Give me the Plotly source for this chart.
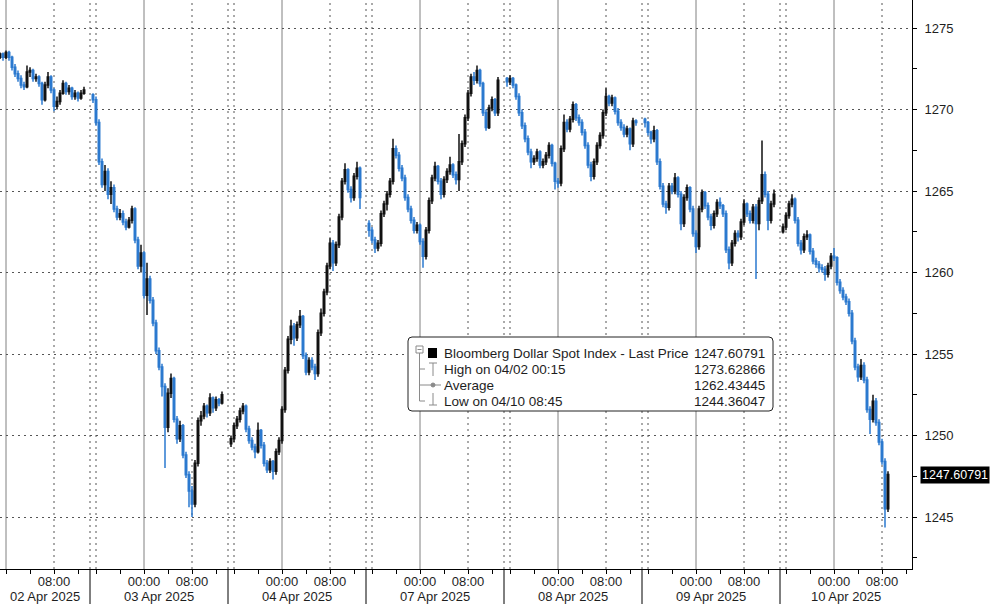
import numpy as np
import plotly.graph_objects as go

# ---------------- data ----------------
series_name = "Bloomberg Dollar Spot Index - Last Price"
last_price = 1247.60791
high_value, high_label = 1273.62866, "High on 04/02 00:15"
avg_value, avg_label = 1262.43445, "Average"
low_value, low_label = 1244.36047, "Low on 04/10 08:45"

# Sessions on a trading-hour clock (each session = 23 h, starting 15:00 the day before)
session_labels = ["02 Apr 2025", "03 Apr 2025", "04 Apr 2025", "07 Apr 2025",
                  "08 Apr 2025", "09 Apr 2025", "10 Apr 2025"]
session_first_bar = [8.0, 23.5, 46.5, 69.5, 92.5, 115.5, 138.5]
session_last_bar = [22.0, 45.0, 68.0, 91.0, 114.0, 137.0, 156.0]
bar_step = 0.5  # 30-minute bars

open_ = [
    1273.2, 1273.4, 1273.2, 1273.5, 1273.2, 1272.6, 1272.2, 1271.9, 1271.5, 1271.4, 1272.3, 1272.4, 1271.9, 1272.0, 1271.6, 1270.6, 1271.5, 1272.0, 1271.2, 1270.2, 1270.5, 1271.0, 1271.6, 1271.1, 1271.3, 1270.8, 1271.0, 1270.7, 1271.0,
    1270.9, 1270.6, 1269.2, 1266.8, 1265.4, 1266.2, 1264.8, 1265.2, 1263.9, 1263.4, 1263.6, 1263.1, 1262.8, 1263.2, 1263.9, 1262.0, 1260.4, 1261.2, 1258.6, 1259.6, 1258.3, 1256.9, 1255.2, 1254.2, 1253.0, 1250.5, 1252.6, 1253.5, 1251.0, 1249.8, 1250.6, 1248.8, 1247.6, 1246.6, 1245.8, 1248.3, 1250.9, 1251.2, 1251.8, 1251.4, 1252.3, 1251.7, 1252.2, 1252.0,
    1249.5, 1249.8, 1250.6, 1251.0, 1251.5, 1251.8, 1250.4, 1249.7, 1249.3, 1249.0, 1250.3, 1249.4, 1248.3, 1247.9, 1248.4, 1247.8, 1249.0, 1249.7, 1251.6, 1254.0, 1255.9, 1256.7, 1256.0, 1256.8, 1257.3, 1254.9, 1253.9, 1254.6, 1254.2, 1253.8, 1256.3, 1257.5, 1258.8, 1260.4, 1261.8, 1260.6, 1261.7, 1263.4, 1265.6, 1266.3, 1265.1, 1264.6, 1265.9, 1266.4,
    1263.0, 1262.6, 1262.0, 1261.5, 1261.8, 1263.6, 1264.2, 1264.8, 1265.6, 1267.6, 1267.2, 1266.4, 1265.8, 1264.6, 1263.9, 1263.2, 1262.6, 1262.9, 1261.9, 1261.0, 1262.6, 1264.4, 1265.8, 1266.5, 1265.6, 1264.8, 1265.7, 1266.2, 1266.6, 1266.0, 1265.7, 1266.8, 1267.9, 1269.5, 1271.0, 1272.0, 1271.8, 1272.4, 1271.6, 1269.8, 1268.9, 1270.1, 1270.6, 1269.8,
    1271.9, 1271.7, 1271.9, 1271.5, 1270.8, 1269.8, 1269.0, 1268.2, 1267.4, 1266.8, 1267.0, 1267.4, 1266.6, 1266.8, 1267.2, 1267.8, 1266.7, 1265.6, 1265.5, 1267.6, 1269.2, 1268.8, 1269.4, 1270.3, 1269.5, 1269.2, 1268.6, 1267.8, 1266.6, 1265.9, 1266.8, 1267.8, 1268.4, 1269.8, 1270.8, 1270.4, 1270.7, 1269.9, 1269.2, 1268.9, 1268.5, 1268.8, 1267.9, 1269.3,
    1269.4, 1269.2, 1268.6, 1268.2, 1268.7, 1266.8, 1265.3, 1264.2, 1264.0, 1265.3, 1265.0, 1265.8, 1264.8, 1263.0, 1264.6, 1265.2, 1263.9, 1262.4, 1261.6, 1263.9, 1264.9, 1264.1, 1263.4, 1262.9, 1263.6, 1264.3, 1264.1, 1263.6, 1261.4, 1260.6, 1261.8, 1262.4, 1262.2, 1263.1, 1264.2, 1263.6, 1263.2, 1264.0, 1263.0, 1264.4, 1266.0, 1264.8, 1263.2, 1264.2,
    1262.5, 1262.8, 1263.5, 1264.2, 1264.5, 1263.2, 1261.8, 1261.4, 1262.2, 1262.3, 1261.3, 1260.7, 1260.5, 1260.3, 1260.2, 1259.9, 1260.4, 1261.0, 1260.9, 1259.4, 1258.9, 1258.5, 1258.2, 1257.5, 1255.8, 1254.2, 1253.6, 1254.3, 1253.4, 1251.6, 1251.0, 1252.1, 1250.8, 1249.6, 1248.4, 1245.5,
]
high = [
    1273.5, 1273.5, 1273.62866, 1273.6, 1273.3, 1272.8, 1272.4, 1272.1, 1271.7, 1272.7, 1272.6, 1272.5, 1272.2, 1272.1, 1271.7, 1271.7, 1272.3, 1272.1, 1271.3, 1270.8, 1271.2, 1271.8, 1271.7, 1271.5, 1271.4, 1271.2, 1271.1, 1271.2, 1271.4,
    1271.0, 1270.8, 1269.4, 1267.0, 1266.6, 1266.4, 1265.6, 1265.4, 1264.1, 1263.9, 1263.8, 1263.3, 1263.4, 1264.1, 1264.0, 1262.2, 1261.7, 1261.3, 1260.6, 1259.8, 1258.5, 1257.1, 1255.4, 1254.4, 1253.2, 1252.9, 1253.8, 1253.6, 1251.2, 1250.9, 1250.7, 1249.0, 1247.8, 1246.9, 1248.5, 1251.1, 1251.5, 1252.0, 1251.9, 1252.6, 1252.4, 1252.4, 1252.3, 1252.7,
    1250.0, 1250.8, 1251.2, 1251.7, 1252.0, 1251.9, 1250.6, 1249.9, 1249.5, 1250.8, 1250.4, 1249.6, 1248.5, 1248.6, 1248.5, 1249.2, 1249.9, 1251.8, 1254.2, 1256.1, 1257.1, 1256.9, 1257.0, 1257.7, 1257.4, 1255.1, 1254.8, 1254.8, 1254.4, 1256.5, 1257.8, 1259.0, 1260.6, 1262.1, 1262.0, 1261.9, 1263.6, 1265.8, 1266.7, 1266.4, 1265.3, 1266.1, 1266.8, 1266.5,
    1263.2, 1262.8, 1262.2, 1262.0, 1263.8, 1264.4, 1265.0, 1265.8, 1268.2, 1267.8, 1267.4, 1266.6, 1266.0, 1264.8, 1264.1, 1263.4, 1263.1, 1263.0, 1262.1, 1262.8, 1264.6, 1266.0, 1266.8, 1266.6, 1265.8, 1265.9, 1266.4, 1267.1, 1266.7, 1266.2, 1268.5, 1268.1, 1269.7, 1271.2, 1272.2, 1272.3, 1272.7, 1272.5, 1271.7, 1270.0, 1270.3, 1270.8, 1270.7, 1272.0,
    1272.0, 1272.1, 1272.0, 1271.6, 1271.0, 1270.0, 1269.2, 1268.4, 1267.6, 1267.2, 1267.6, 1267.5, 1267.0, 1267.4, 1268.0, 1267.9, 1266.8, 1265.8, 1267.8, 1269.7, 1269.4, 1269.6, 1270.5, 1270.4, 1269.7, 1269.4, 1268.8, 1268.0, 1266.8, 1267.0, 1268.0, 1268.6, 1270.0, 1271.3, 1270.9, 1270.9, 1270.8, 1270.1, 1269.4, 1269.1, 1269.0, 1268.9, 1269.5, 1269.4,
    1269.5, 1269.3, 1268.7, 1269.0, 1268.8, 1267.0, 1265.5, 1264.4, 1265.5, 1265.5, 1266.1, 1265.9, 1265.0, 1264.8, 1265.4, 1265.3, 1264.1, 1262.6, 1264.1, 1265.1, 1265.0, 1264.3, 1263.6, 1263.8, 1264.5, 1264.6, 1264.2, 1263.8, 1261.6, 1262.0, 1262.6, 1262.6, 1263.3, 1264.5, 1264.3, 1263.8, 1264.2, 1264.2, 1264.6, 1268.1, 1266.2, 1265.0, 1264.4, 1265.1,
    1263.0, 1263.7, 1264.4, 1264.8, 1264.6, 1263.4, 1262.0, 1262.4, 1262.6, 1262.4, 1261.5, 1260.9, 1260.7, 1260.5, 1260.4, 1260.6, 1261.2, 1261.5, 1261.0, 1259.6, 1259.1, 1258.7, 1258.4, 1257.7, 1256.0, 1254.4, 1254.7, 1254.5, 1253.6, 1251.8, 1252.5, 1252.3, 1251.0, 1249.8, 1248.6, 1247.8,
]
low = [
    1273.1, 1273.0, 1273.1, 1273.0, 1272.4, 1272.0, 1271.7, 1271.3, 1271.2, 1271.3, 1272.0, 1271.7, 1271.7, 1271.4, 1270.3, 1270.5, 1271.3, 1271.0, 1269.9, 1270.0, 1270.3, 1270.9, 1270.9, 1270.9, 1270.6, 1270.6, 1270.5, 1270.6, 1270.9,
    1270.4, 1269.0, 1266.6, 1265.2, 1265.0, 1264.5, 1264.2, 1263.7, 1263.2, 1263.2, 1262.9, 1262.6, 1262.7, 1263.0, 1261.8, 1260.2, 1260.0, 1258.4, 1257.4, 1258.1, 1256.7, 1255.0, 1254.0, 1252.4, 1248.0, 1250.2, 1252.3, 1250.8, 1249.5, 1249.6, 1248.6, 1247.4, 1245.6, 1245.0, 1245.6, 1248.1, 1250.6, 1251.0, 1251.1, 1251.2, 1251.4, 1251.5, 1251.8, 1251.9,
    1249.3, 1249.6, 1250.4, 1250.8, 1251.3, 1250.2, 1249.5, 1249.1, 1248.6, 1248.9, 1249.2, 1248.1, 1247.7, 1247.7, 1247.3, 1247.6, 1248.8, 1249.5, 1251.4, 1253.8, 1255.6, 1255.5, 1255.8, 1256.6, 1254.7, 1253.7, 1253.7, 1254.0, 1253.4, 1253.6, 1256.1, 1257.3, 1258.6, 1260.2, 1260.1, 1260.4, 1261.5, 1263.2, 1265.4, 1264.9, 1264.3, 1264.4, 1265.7, 1263.9,
    1262.2, 1261.8, 1261.2, 1261.3, 1261.6, 1263.4, 1263.8, 1264.6, 1265.4, 1267.0, 1266.2, 1265.6, 1264.4, 1263.7, 1263.0, 1262.4, 1262.4, 1261.7, 1260.3, 1260.8, 1262.4, 1264.2, 1265.6, 1265.4, 1264.5, 1264.6, 1265.5, 1266.0, 1265.8, 1265.4, 1265.0, 1266.6, 1267.7, 1269.3, 1270.8, 1271.5, 1271.6, 1271.4, 1269.6, 1268.7, 1268.8, 1269.9, 1269.6, 1269.6,
    1271.4, 1271.5, 1271.3, 1270.6, 1269.6, 1268.8, 1268.0, 1267.2, 1266.4, 1266.6, 1266.8, 1266.4, 1266.4, 1266.6, 1267.0, 1266.5, 1265.1, 1265.2, 1265.3, 1267.4, 1268.6, 1268.6, 1269.2, 1269.3, 1269.0, 1268.4, 1267.6, 1266.4, 1265.6, 1265.7, 1266.6, 1267.6, 1268.2, 1269.6, 1270.2, 1270.2, 1269.7, 1269.0, 1268.7, 1268.3, 1268.3, 1267.5, 1267.7, 1269.0,
    1268.9, 1268.4, 1267.9, 1268.0, 1266.6, 1265.1, 1264.0, 1263.6, 1263.8, 1264.8, 1264.8, 1264.6, 1262.6, 1262.8, 1264.4, 1263.7, 1262.2, 1261.2, 1261.4, 1263.7, 1263.9, 1263.2, 1262.6, 1262.7, 1263.4, 1263.9, 1263.4, 1261.2, 1260.2, 1260.4, 1261.6, 1261.9, 1262.0, 1262.9, 1263.4, 1263.0, 1263.0, 1259.6, 1262.6, 1264.2, 1264.6, 1262.6, 1263.0, 1264.0,
    1262.4, 1262.6, 1263.3, 1264.0, 1263.0, 1261.6, 1261.1, 1261.2, 1262.0, 1261.1, 1260.5, 1260.3, 1260.0, 1260.0, 1259.5, 1259.7, 1260.2, 1260.7, 1259.2, 1258.7, 1258.3, 1258.0, 1257.3, 1255.6, 1254.0, 1253.3, 1253.4, 1253.2, 1251.4, 1250.1, 1250.8, 1250.6, 1249.4, 1248.2, 1244.36047, 1245.3,
]
close = [
    1273.4, 1273.2, 1273.5, 1273.2, 1272.6, 1272.2, 1271.9, 1271.5, 1271.4, 1272.3, 1272.4, 1271.9, 1272.0, 1271.6, 1270.6, 1271.5, 1272.0, 1271.2, 1270.2, 1270.5, 1271.0, 1271.6, 1271.1, 1271.3, 1270.8, 1271.0, 1270.7, 1271.0, 1271.2,
    1270.6, 1269.2, 1266.8, 1265.4, 1266.2, 1264.8, 1265.2, 1263.9, 1263.4, 1263.6, 1263.1, 1262.8, 1263.2, 1263.9, 1262.0, 1260.4, 1261.2, 1258.6, 1259.6, 1258.3, 1256.9, 1255.2, 1254.2, 1253.0, 1250.5, 1252.6, 1253.5, 1251.0, 1249.8, 1250.6, 1248.8, 1247.6, 1246.6, 1245.8, 1248.3, 1250.9, 1251.2, 1251.8, 1251.4, 1252.3, 1251.7, 1252.2, 1252.0, 1252.5,
    1249.8, 1250.6, 1251.0, 1251.5, 1251.8, 1250.4, 1249.7, 1249.3, 1249.0, 1250.3, 1249.4, 1248.3, 1247.9, 1248.4, 1247.8, 1249.0, 1249.7, 1251.6, 1254.0, 1255.9, 1256.7, 1256.0, 1256.8, 1257.3, 1254.9, 1253.9, 1254.6, 1254.2, 1253.8, 1256.3, 1257.5, 1258.8, 1260.4, 1261.8, 1260.6, 1261.7, 1263.4, 1265.6, 1266.3, 1265.1, 1264.6, 1265.9, 1266.4, 1264.6,
    1262.6, 1262.0, 1261.5, 1261.8, 1263.6, 1264.2, 1264.8, 1265.6, 1267.6, 1267.2, 1266.4, 1265.8, 1264.6, 1263.9, 1263.2, 1262.6, 1262.9, 1261.9, 1261.0, 1262.6, 1264.4, 1265.8, 1266.5, 1265.6, 1264.8, 1265.7, 1266.2, 1266.6, 1266.0, 1265.7, 1266.8, 1267.9, 1269.5, 1271.0, 1272.0, 1271.8, 1272.4, 1271.6, 1269.8, 1268.9, 1270.1, 1270.6, 1269.8, 1271.8,
    1271.7, 1271.9, 1271.5, 1270.8, 1269.8, 1269.0, 1268.2, 1267.4, 1266.8, 1267.0, 1267.4, 1266.6, 1266.8, 1267.2, 1267.8, 1266.7, 1265.6, 1265.5, 1267.6, 1269.2, 1268.8, 1269.4, 1270.3, 1269.5, 1269.2, 1268.6, 1267.8, 1266.6, 1265.9, 1266.8, 1267.8, 1268.4, 1269.8, 1270.8, 1270.4, 1270.7, 1269.9, 1269.2, 1268.9, 1268.5, 1268.8, 1267.9, 1269.3, 1269.2,
    1269.2, 1268.6, 1268.2, 1268.7, 1266.8, 1265.3, 1264.2, 1264.0, 1265.3, 1265.0, 1265.8, 1264.8, 1263.0, 1264.6, 1265.2, 1263.9, 1262.4, 1261.6, 1263.9, 1264.9, 1264.1, 1263.4, 1262.9, 1263.6, 1264.3, 1264.1, 1263.6, 1261.4, 1260.6, 1261.8, 1262.4, 1262.2, 1263.1, 1264.2, 1263.6, 1263.2, 1264.0, 1263.0, 1264.4, 1266.0, 1264.8, 1263.2, 1264.2, 1264.8,
    1262.8, 1263.5, 1264.2, 1264.5, 1263.2, 1261.8, 1261.4, 1262.2, 1262.3, 1261.3, 1260.7, 1260.5, 1260.3, 1260.2, 1259.9, 1260.4, 1261.0, 1260.9, 1259.4, 1258.9, 1258.5, 1258.2, 1257.5, 1255.8, 1254.2, 1253.6, 1254.3, 1253.4, 1251.6, 1251.0, 1252.1, 1250.8, 1249.6, 1248.4, 1245.5, 1247.60791,
]

y_ticks = [1245, 1250, 1255, 1260, 1265, 1270, 1275]

# ---------------- layout constants ----------------
SESSION_H = 23          # hours per session on the trading clock
MIDNIGHT, EIGHT = 9, 17  # offsets of 00:00 and 08:00 inside a session
X_MIN, X_MAX = 8.0, 160.0
Y_MIN, Y_MAX = 1241.81, 1276.72
W, H = 990, 604
ML, MR, MT, MB = 0, 78, 0, 35
PW, PH = W - ML - MR, H - MT - MB
FONT = "Liberation Sans, Arial, sans-serif"
TXT = "#1e1e1e"
BLUE = "#2b79cf"

t = np.concatenate([np.arange(a, b + bar_step / 2, bar_step)
                    for a, b in zip(session_first_bar, session_last_bar)])

fig = go.Figure()
fig.add_trace(go.Candlestick(
    x=t, open=open_, high=high, low=low, close=close,
    increasing=dict(line=dict(color="#111111", width=1.5), fillcolor="white"),
    decreasing=dict(line=dict(color=BLUE, width=1.5), fillcolor=BLUE),
    whiskerwidth=0, showlegend=False, hoverinfo="skip"))

# y-axis tick pointers (small black triangles right of the axis line)
fig.add_trace(go.Scatter(
    x=[X_MAX + 4 / (PW / (X_MAX - X_MIN))] * len(y_ticks), y=y_ticks,
    mode="markers", marker=dict(symbol="triangle-right", size=8, color="black"),
    cliponaxis=False, showlegend=False, hoverinfo="skip"))
# last price tag pointer
fig.add_trace(go.Scatter(
    x=[X_MAX + 6 / (PW / (X_MAX - X_MIN))], y=[last_price],
    mode="markers", marker=dict(symbol="triangle-left", size=15, color="black"),
    cliponaxis=False, showlegend=False, hoverinfo="skip"))

shapes, annotations = [], []


def px(x):
    return (x - ML) / PW


def py(y):
    return 1 - (y - MT) / PH


DOT = "2px,4px"
for k in range(len(session_labels)):
    base = k * SESSION_H
    for off, dash, col in [(0, DOT, "#555"), (1, DOT, "#555"), (EIGHT, DOT, "#555"),
                           (MIDNIGHT, "solid", "#808080")]:
        v = base + off
        if X_MIN < v < X_MAX:
            shapes.append(dict(type="line", xref="x", yref="paper", x0=v, x1=v, y0=0, y1=1,
                               line=dict(color=col, width=1, dash=dash), layer="below"))
    # separator between date labels below the axis
    if k > 0:
        xp = (base - X_MIN) / (X_MAX - X_MIN)
        shapes.append(dict(type="line", xref="paper", yref="paper", x0=xp, x1=xp,
                           y0=0, y1=-MB / PH, line=dict(color="black", width=1)))
    # date label centred in the visible part of the session
    a = max(base, X_MIN)
    b = min(base + SESSION_H, X_MAX)
    annotations.append(dict(text=session_labels[k], xref="x", yref="paper",
                            x=(a + b) / 2, y=-27 / PH, yanchor="middle",
                            showarrow=False, font=dict(family=FONT, size=13, color=TXT)))

# x ticks every 4 h, labels at 00:00 and 08:00
tickvals, ticktext = [], []
for k in range(len(session_labels)):
    for off in [1, 5, 9, 13, 17, 21]:
        v = k * SESSION_H + off
        if X_MIN <= v <= X_MAX:
            tickvals.append(v)
            if off == MIDNIGHT and k > 0:
                ticktext.append("00:00")
            elif off == EIGHT:
                ticktext.append("08:00")
            else:
                ticktext.append("")

# last price tag
annotations.append(dict(text=f"{last_price:.5f}", xref="paper", yref="y", x=1, xshift=8,
                        y=last_price, xanchor="left", yanchor="middle", showarrow=False,
                        bgcolor="black", borderpad=1,
                        font=dict(family=FONT, size=12.5, color="white")))

# ---- legend box ----
x0, x1, y0, y1, r = 408, 773, 337, 411, 4
path = (f"M {px(x0 + r)},{py(y0)} L {px(x1 - r)},{py(y0)} Q {px(x1)},{py(y0)} {px(x1)},{py(y0 + r)} "
        f"L {px(x1)},{py(y1 - r)} Q {px(x1)},{py(y1)} {px(x1 - r)},{py(y1)} "
        f"L {px(x0 + r)},{py(y1)} Q {px(x0)},{py(y1)} {px(x0)},{py(y1 - r)} "
        f"L {px(x0)},{py(y0 + r)} Q {px(x0)},{py(y0)} {px(x0 + r)},{py(y0)} Z")
shapes.append(dict(type="path", xref="paper", yref="paper", path=path,
                   fillcolor="white", line=dict(color="#222", width=1), layer="above"))
GR = "#8a8a8a"


def seg(xa, ya, xb, yb, color=GR, width=1):
    shapes.append(dict(type="line", xref="paper", yref="paper", x0=px(xa), y0=py(ya),
                       x1=px(xb), y1=py(yb), line=dict(color=color, width=width), layer="above"))


# tree: collapse box and connectors
shapes.append(dict(type="rect", xref="paper", yref="paper", x0=px(416), x1=px(423),
                   y0=py(346), y1=py(353), line=dict(color=GR, width=1),
                   fillcolor="white", layer="above"))
seg(417.5, 349.5, 421.5, 349.5)
seg(419.5, 353, 419.5, 401)
for yy in (369, 385, 401):
    seg(419.5, yy, 425, yy)
# series swatch
shapes.append(dict(type="rect", xref="paper", yref="paper", x0=px(428), x1=px(437),
                   y0=py(348), y1=py(358), line=dict(color="black", width=0),
                   fillcolor="black", layer="above"))
# high icon
seg(429, 363, 437, 363)
seg(433, 363, 433, 376)
# average icon
seg(425, 385, 441, 385)
shapes.append(dict(type="circle", xref="paper", yref="paper", x0=px(431), x1=px(435),
                   y0=py(383), y1=py(387), line=dict(color=GR, width=1), fillcolor=GR,
                   layer="above"))
# low icon
seg(433, 393, 433, 405)
seg(429, 405, 437, 405)

rows = [(series_name, last_price, 353), (high_label, high_value, 369),
        (avg_label, avg_value, 385), (low_label, low_value, 401)]
for label, val, yy in rows:
    annotations.append(dict(text=label, xref="paper", yref="paper", x=px(442), y=py(yy),
                            xanchor="left", yanchor="middle", showarrow=False,
                            font=dict(family=FONT, size=13.5, color=TXT)))
    annotations.append(dict(text=f"{val:.5f}", xref="paper", yref="paper", x=px(767), y=py(yy),
                            xanchor="right", yanchor="middle", showarrow=False,
                            font=dict(family=FONT, size=13.5, color=TXT)))

fig.update_layout(
    width=W, height=H, margin=dict(l=ML, r=MR, t=MT, b=MB),
    paper_bgcolor="white", plot_bgcolor="white", showlegend=False,
    shapes=shapes, annotations=annotations,
    xaxis=dict(range=[X_MIN, X_MAX], rangeslider=dict(visible=False), showgrid=False,
               zeroline=False, showline=True, linecolor="black", linewidth=1,
               tickmode="array", tickvals=tickvals, ticktext=ticktext,
               ticks="outside", ticklen=4, tickcolor="black", ticklabelstandoff=-4,
               tickfont=dict(family=FONT, size=13, color=TXT)),
    yaxis=dict(range=[Y_MIN, Y_MAX], side="right", showline=True, linecolor="black",
               linewidth=1, zeroline=False, tickmode="array", tickvals=y_ticks,
               ticktext=[str(v) for v in y_ticks], ticks="outside", ticklen=9,
               tickcolor="rgba(0,0,0,0)", tickfont=dict(family=FONT, size=13, color=TXT),
               showgrid=True, gridcolor="#555", griddash=DOT, gridwidth=1,
               minor=dict(tick0=1242.5, dtick=2.5, ticks="outside", ticklen=4,
                          tickcolor="black", showgrid=False)),
)

# remove the browser's default page margin so the figure sits at the window origin
fig.write_html("out.html", config={"displayModeBar": False},
               post_script="document.body.style.margin='0px';")
